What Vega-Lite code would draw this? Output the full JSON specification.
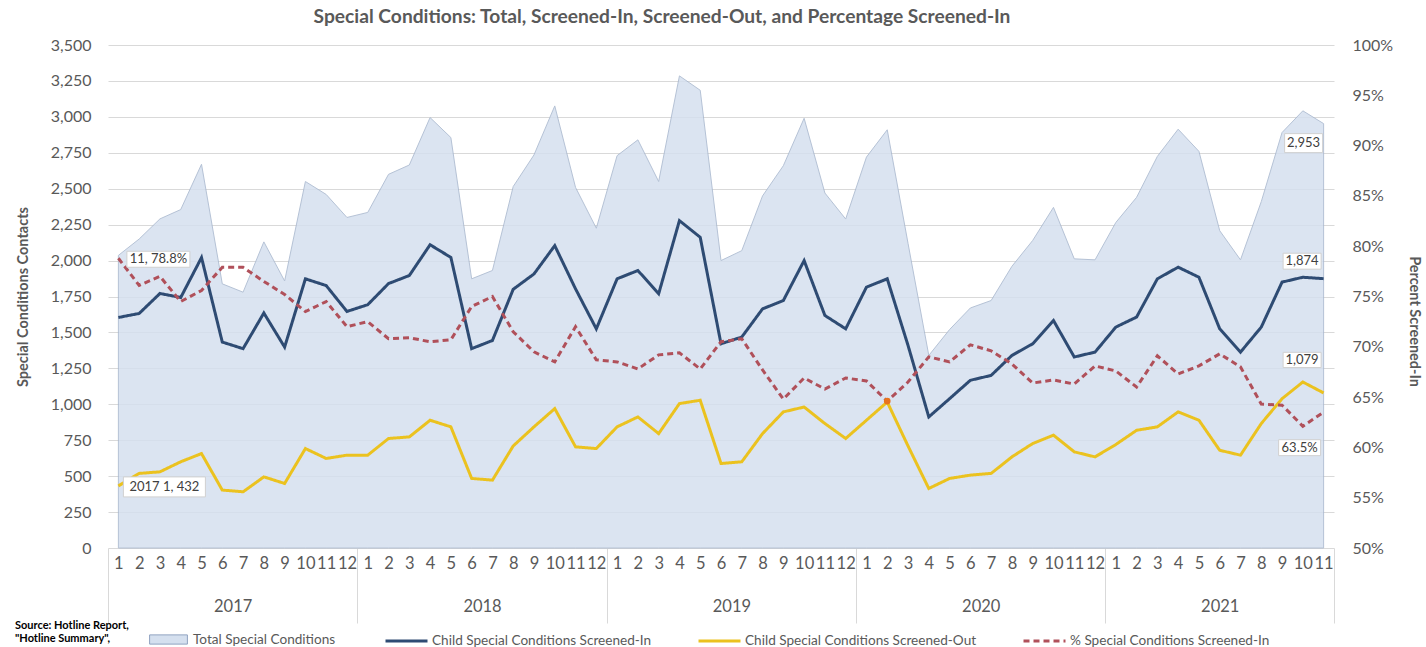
{
  "$schema": "https://vega.github.io/schema/vega-lite/v6.json",
  "width": 1226,
  "height": 503,
  "autosize": {"type": "none"},
  "padding": {"left": 108, "top": 45, "right": 92, "bottom": 99},
  "background": "white",
  "title": {
    "text": "Special Conditions: Total, Screened-In, Screened-Out, and Percentage Screened-In",
    "anchor": "middle", "dx": -59, "offset": 10,
    "font": "Lato", "fontSize": 19.2, "fontWeight": "bold", "color": "#595959"
  },
  "config": {
    "view": {"stroke": null},
    "font": "Lato",
    "axis": {"labelFont": "Lato", "titleFont": "Lato", "labelColor": "#595959", "titleColor": "#595959"}
  },
  "datasets": {
    "months": [
      {"i": 0, "year": 2017, "month": 1, "total": 2036, "screenedIn": 1604, "screenedOut": 432, "pct": 78.8},
      {"i": 1, "year": 2017, "month": 2, "total": 2150, "screenedIn": 1632, "screenedOut": 519, "pct": 76.1},
      {"i": 2, "year": 2017, "month": 3, "total": 2290, "screenedIn": 1771, "screenedOut": 530, "pct": 77.0},
      {"i": 3, "year": 2017, "month": 4, "total": 2355, "screenedIn": 1743, "screenedOut": 600, "pct": 74.5},
      {"i": 4, "year": 2017, "month": 5, "total": 2670, "screenedIn": 2021, "screenedOut": 657, "pct": 75.6},
      {"i": 5, "year": 2017, "month": 6, "total": 1838, "screenedIn": 1433, "screenedOut": 403, "pct": 77.9},
      {"i": 6, "year": 2017, "month": 7, "total": 1780, "screenedIn": 1387, "screenedOut": 391, "pct": 77.9},
      {"i": 7, "year": 2017, "month": 8, "total": 2130, "screenedIn": 1635, "screenedOut": 495, "pct": 76.5},
      {"i": 8, "year": 2017, "month": 9, "total": 1858, "screenedIn": 1398, "screenedOut": 449, "pct": 75.2},
      {"i": 9, "year": 2017, "month": 10, "total": 2550, "screenedIn": 1873, "screenedOut": 692, "pct": 73.5},
      {"i": 10, "year": 2017, "month": 11, "total": 2460, "screenedIn": 1826, "screenedOut": 623, "pct": 74.5},
      {"i": 11, "year": 2017, "month": 12, "total": 2300, "screenedIn": 1646, "screenedOut": 646, "pct": 72.0},
      {"i": 12, "year": 2018, "month": 1, "total": 2335, "screenedIn": 1693, "screenedOut": 646, "pct": 72.5},
      {"i": 13, "year": 2018, "month": 2, "total": 2600, "screenedIn": 1840, "screenedOut": 762, "pct": 70.8},
      {"i": 14, "year": 2018, "month": 3, "total": 2665, "screenedIn": 1896, "screenedOut": 773, "pct": 70.9},
      {"i": 15, "year": 2018, "month": 4, "total": 2995, "screenedIn": 2110, "screenedOut": 889, "pct": 70.5},
      {"i": 16, "year": 2018, "month": 5, "total": 2856, "screenedIn": 2022, "screenedOut": 843, "pct": 70.7},
      {"i": 17, "year": 2018, "month": 6, "total": 1873, "screenedIn": 1387, "screenedOut": 484, "pct": 74.0},
      {"i": 18, "year": 2018, "month": 7, "total": 1931, "screenedIn": 1444, "screenedOut": 472, "pct": 75.0},
      {"i": 19, "year": 2018, "month": 8, "total": 2515, "screenedIn": 1800, "screenedOut": 710, "pct": 71.5},
      {"i": 20, "year": 2018, "month": 9, "total": 2735, "screenedIn": 1907, "screenedOut": 843, "pct": 69.5},
      {"i": 21, "year": 2018, "month": 10, "total": 3076, "screenedIn": 2104, "screenedOut": 970, "pct": 68.5},
      {"i": 22, "year": 2018, "month": 11, "total": 2509, "screenedIn": 1803, "screenedOut": 704, "pct": 72.0},
      {"i": 23, "year": 2018, "month": 12, "total": 2225, "screenedIn": 1525, "screenedOut": 692, "pct": 68.7},
      {"i": 24, "year": 2019, "month": 1, "total": 2730, "screenedIn": 1873, "screenedOut": 843, "pct": 68.5},
      {"i": 25, "year": 2019, "month": 2, "total": 2840, "screenedIn": 1931, "screenedOut": 912, "pct": 67.8},
      {"i": 26, "year": 2019, "month": 3, "total": 2550, "screenedIn": 1769, "screenedOut": 796, "pct": 69.2},
      {"i": 27, "year": 2019, "month": 4, "total": 3285, "screenedIn": 2278, "screenedOut": 1005, "pct": 69.4},
      {"i": 28, "year": 2019, "month": 5, "total": 3185, "screenedIn": 2162, "screenedOut": 1028, "pct": 67.8},
      {"i": 29, "year": 2019, "month": 6, "total": 2000, "screenedIn": 1421, "screenedOut": 588, "pct": 70.5},
      {"i": 30, "year": 2019, "month": 7, "total": 2069, "screenedIn": 1468, "screenedOut": 600, "pct": 70.8},
      {"i": 31, "year": 2019, "month": 8, "total": 2450, "screenedIn": 1664, "screenedOut": 796, "pct": 67.7},
      {"i": 32, "year": 2019, "month": 9, "total": 2660, "screenedIn": 1722, "screenedOut": 947, "pct": 64.8},
      {"i": 33, "year": 2019, "month": 10, "total": 2990, "screenedIn": 2000, "screenedOut": 981, "pct": 66.9},
      {"i": 34, "year": 2019, "month": 11, "total": 2470, "screenedIn": 1618, "screenedOut": 866, "pct": 65.8},
      {"i": 35, "year": 2019, "month": 12, "total": 2289, "screenedIn": 1525, "screenedOut": 762, "pct": 66.9},
      {"i": 36, "year": 2020, "month": 1, "total": 2720, "screenedIn": 1815, "screenedOut": 889, "pct": 66.6},
      {"i": 37, "year": 2020, "month": 2, "total": 2910, "screenedIn": 1873, "screenedOut": 1016, "pct": 64.6},
      {"i": 38, "year": 2020, "month": 3, "total": 2120, "screenedIn": 1410, "screenedOut": 710, "pct": 66.5},
      {"i": 39, "year": 2020, "month": 4, "total": 1340, "screenedIn": 912, "screenedOut": 414, "pct": 69.0},
      {"i": 40, "year": 2020, "month": 5, "total": 1520, "screenedIn": 1039, "screenedOut": 484, "pct": 68.5},
      {"i": 41, "year": 2020, "month": 6, "total": 1670, "screenedIn": 1167, "screenedOut": 507, "pct": 70.2},
      {"i": 42, "year": 2020, "month": 7, "total": 1722, "screenedIn": 1201, "screenedOut": 519, "pct": 69.6},
      {"i": 43, "year": 2020, "month": 8, "total": 1960, "screenedIn": 1340, "screenedOut": 634, "pct": 68.3},
      {"i": 44, "year": 2020, "month": 9, "total": 2140, "screenedIn": 1421, "screenedOut": 727, "pct": 66.4},
      {"i": 45, "year": 2020, "month": 10, "total": 2370, "screenedIn": 1583, "screenedOut": 785, "pct": 66.7},
      {"i": 46, "year": 2020, "month": 11, "total": 2012, "screenedIn": 1329, "screenedOut": 669, "pct": 66.3},
      {"i": 47, "year": 2020, "month": 12, "total": 2005, "screenedIn": 1363, "screenedOut": 634, "pct": 68.1},
      {"i": 48, "year": 2021, "month": 1, "total": 2265, "screenedIn": 1537, "screenedOut": 720, "pct": 67.6},
      {"i": 49, "year": 2021, "month": 2, "total": 2440, "screenedIn": 1607, "screenedOut": 819, "pct": 66.0},
      {"i": 50, "year": 2021, "month": 3, "total": 2725, "screenedIn": 1873, "screenedOut": 843, "pct": 69.1},
      {"i": 51, "year": 2021, "month": 4, "total": 2914, "screenedIn": 1954, "screenedOut": 947, "pct": 67.3},
      {"i": 52, "year": 2021, "month": 5, "total": 2760, "screenedIn": 1884, "screenedOut": 889, "pct": 68.1},
      {"i": 53, "year": 2021, "month": 6, "total": 2208, "screenedIn": 1525, "screenedOut": 680, "pct": 69.3},
      {"i": 54, "year": 2021, "month": 7, "total": 2005, "screenedIn": 1363, "screenedOut": 646, "pct": 68.0},
      {"i": 55, "year": 2021, "month": 8, "total": 2410, "screenedIn": 1537, "screenedOut": 866, "pct": 64.3},
      {"i": 56, "year": 2021, "month": 9, "total": 2891, "screenedIn": 1850, "screenedOut": 1039, "pct": 64.2},
      {"i": 57, "year": 2021, "month": 10, "total": 3042, "screenedIn": 1884, "screenedOut": 1155, "pct": 62.1},
      {"i": 58, "year": 2021, "month": 11, "total": 2953, "screenedIn": 1874, "screenedOut": 1079, "pct": 63.5}
    ],
    "leftLabels": [
      {"i": 0, "v": 432, "label": "2017 1, 432"},
      {"i": 58, "v": 2953, "label": "2,953"},
      {"i": 58, "v": 1874, "label": "1,874"},
      {"i": 58, "v": 1079, "label": "1,079"}
    ],
    "pctLabels": [
      {"i": 0, "v": 78.8, "label": "11, 78.8%"},
      {"i": 58, "v": 63.5, "label": "63.5%"}
    ]
  },
  "data": {"name": "months"},
  "layer": [
    {
      "mark": {"type": "area", "opacity": 0.85, "stroke": "#A9B8CF", "strokeWidth": 1},
      "encoding": {
        "x": {"field": "i", "type": "quantitative", "scale": {"domain": [-0.5, 58.5], "nice": false, "zero": false},
          "axis": {"orient": "bottom", "values": [0,1,2,3,4,5,6,7,8,9,10,11,12,13,14,15,16,17,18,19,20,21,22,23,24,25,26,27,28,29,30,31,32,33,34,35,36,37,38,39,40,41,42,43,44,45,46,47,48,49,50,51,52,53,54,55,56,57,58],
            "labelExpr": "'' + ((datum.value % 12) + 1)", "grid": false, "domain": false, "ticks": false, "labelPadding": 7, "labelFontSize": 16.5, "labelOverlap": false, "labelFlush": false, "labelBound": false, "title": null}},
        "y": {"field": "total", "type": "quantitative", "scale": {"domain": [0, 3500], "nice": false, "zero": false},
          "axis": {"orient": "left", "values": [0,250,500,750,1000,1250,1500,1750,2000,2250,2500,2750,3000,3250,3500], "labelExpr": "format(datum.value, ',')", "grid": true, "gridColor": "#D9D9D9", "domain": false, "ticks": false, "labelPadding": 17, "labelFontSize": 16, "title": "Special Conditions Contacts", "titleFontSize": 14.5, "titleFontWeight": "bold", "titlePadding": 20}},
        "fill": {"datum": "Total Special Conditions", "type": "nominal",
          "scale": {"domain": ["Total Special Conditions"], "range": ["#D5E0EF"]},
          "legend": {
            "orient": "none", "legendX": -93, "legendY": 573, "direction": "horizontal",
            "title": ["Source: Hotline Report,", "\"Hotline Summary\","], "titleOrient": "left", "titleFontSize": 11, "titleFontWeight": "bold", "titleColor": "#000000", "titlePadding": 18, "titleFont": "Lato", "titleLimit": 200,
            "labelFont": "Lato", "labelFontSize": 13.6, "labelColor": "#595959", "labelOffset": 3, "labelLimit": 400,
            "symbolType": "M-0.9,-0.22H0.9V0.22H-0.9Z", "symbolSize": 1764, "symbolStrokeColor": "#8FA2C0", "symbolStrokeWidth": 1, "symbolOpacity": 1
          }}
      }
    },
    {
      "mark": {"type": "line", "strokeWidth": 3},
      "encoding": {
        "x": {"field": "i", "type": "quantitative", "scale": {"domain": [-0.5, 58.5], "nice": false, "zero": false}, "axis": null},
        "y": {"field": "screenedIn", "type": "quantitative", "scale": {"domain": [0, 3500], "nice": false, "zero": false}, "axis": null},
        "stroke": {"datum": "Child Special Conditions Screened-In", "type": "nominal",
          "scale": {"domain": ["Child Special Conditions Screened-In", "Child Special Conditions Screened-Out", "% Special Conditions Screened-In"], "range": ["#2E4B73", "#EBC21F", "#B0505A"]},
          "legend": {
            "orient": "none", "legendX": 276, "legendY": 573, "direction": "horizontal", "title": null,
            "labelFont": "Lato", "labelFontSize": 13.6, "labelColor": "#595959", "labelOffset": 3, "labelLimit": 400,
            "symbolType": "stroke", "symbolSize": 1764, "symbolStrokeWidth": 3, "columnPadding": 40, "symbolOpacity": 1
          }},
        "strokeDash": {"datum": "Child Special Conditions Screened-In", "type": "nominal",
          "scale": {"domain": ["Child Special Conditions Screened-In", "Child Special Conditions Screened-Out", "% Special Conditions Screened-In"], "range": [[1, 0], [1, 0], [6, 4]]},
          "legend": {
            "orient": "none", "legendX": 276, "legendY": 573, "direction": "horizontal", "title": null,
            "labelFont": "Lato", "labelFontSize": 13.6, "labelColor": "#595959", "labelOffset": 3, "labelLimit": 400,
            "symbolType": "stroke", "symbolSize": 1764, "symbolStrokeWidth": 3, "columnPadding": 40, "symbolOpacity": 1
          }}
      }
    },
    {
      "mark": {"type": "line", "strokeWidth": 3},
      "encoding": {
        "x": {"field": "i", "type": "quantitative", "scale": {"domain": [-0.5, 58.5], "nice": false, "zero": false}, "axis": null},
        "y": {"field": "screenedOut", "type": "quantitative", "scale": {"domain": [0, 3500], "nice": false, "zero": false}, "axis": null},
        "stroke": {"datum": "Child Special Conditions Screened-Out", "type": "nominal"},
        "strokeDash": {"datum": "Child Special Conditions Screened-Out", "type": "nominal"}
      }
    },
    {
      "mark": {"type": "line", "strokeWidth": 3},
      "encoding": {
        "x": {"field": "i", "type": "quantitative", "scale": {"domain": [-0.5, 58.5], "nice": false, "zero": false},
          "axis": {"orient": "bottom", "values": [-0.5, 11.5, 23.5, 35.5, 47.5, 58.5], "labels": false, "ticks": true, "tickSize": 75, "tickColor": "#D9D9D9", "tickWidth": 1, "domain": false, "grid": false, "title": null}},
        "y": {"field": "pct", "type": "quantitative", "scale": {"domain": [50, 100], "nice": false, "zero": false},
          "axis": {"orient": "right", "values": [50,55,60,65,70,75,80,85,90,95,100], "labelExpr": "datum.value + '%'", "grid": false, "domain": false, "ticks": false, "labelPadding": 18, "labelFontSize": 16, "title": "Percent Screened-In", "titleFontSize": 14.5, "titleFontWeight": "bold", "titlePadding": 14, "titleY": 276}},
        "stroke": {"datum": "% Special Conditions Screened-In", "type": "nominal"},
        "strokeDash": {"datum": "% Special Conditions Screened-In", "type": "nominal"}
      }
    },
    {
      "transform": [{"filter": "datum.i == 37"}],
      "mark": {"type": "point", "filled": true, "size": 45, "color": "#E8731E", "opacity": 1},
      "encoding": {
        "x": {"field": "i", "type": "quantitative", "scale": {"domain": [-0.5, 58.5], "nice": false, "zero": false}, "axis": null},
        "y": {"field": "pct", "type": "quantitative", "scale": {"domain": [50, 100], "nice": false, "zero": false}, "axis": null}
      }
    },
    {
      "data": {"name": "leftLabels"},
      "transform": [{"filter": "datum.label == '2017 1, 432'"}],
      "mark": {"type": "point", "shape": "M-1,-0.244H1V0.244H-1Z", "size": 6724, "filled": true, "fill": "white", "stroke": "#D0D0D0", "strokeWidth": 1, "opacity": 1, "xOffset": 46, "yOffset": 1},
      "encoding": {
        "x": {"field": "i", "type": "quantitative", "scale": {"domain": [-0.5, 58.5], "nice": false, "zero": false}, "axis": null},
        "y": {"field": "v", "type": "quantitative", "scale": {"domain": [0, 3500], "nice": false, "zero": false}, "axis": null}
      }
    },
    {
      "data": {"name": "leftLabels"},
      "transform": [{"filter": "datum.label == '2017 1, 432'"}],
      "mark": {"type": "text", "dx": 46, "dy": 1, "fontSize": 13, "color": "#404040", "align": "center", "baseline": "middle", "font": "Lato"},
      "encoding": {
        "x": {"field": "i", "type": "quantitative", "scale": {"domain": [-0.5, 58.5], "nice": false, "zero": false}, "axis": null},
        "y": {"field": "v", "type": "quantitative", "scale": {"domain": [0, 3500], "nice": false, "zero": false}, "axis": null},
        "text": {"field": "label"}
      }
    },
    {
      "data": {"name": "leftLabels"},
      "transform": [{"filter": "datum.label == '2,953'"}],
      "mark": {"type": "point", "shape": "M-1,-0.5H1V0.5H-1Z", "size": 1444, "filled": true, "fill": "white", "stroke": "#D0D0D0", "strokeWidth": 1, "opacity": 1, "xOffset": -20, "yOffset": 19.5},
      "encoding": {
        "x": {"field": "i", "type": "quantitative", "scale": {"domain": [-0.5, 58.5], "nice": false, "zero": false}, "axis": null},
        "y": {"field": "v", "type": "quantitative", "scale": {"domain": [0, 3500], "nice": false, "zero": false}, "axis": null}
      }
    },
    {
      "data": {"name": "leftLabels"},
      "transform": [{"filter": "datum.label == '2,953'"}],
      "mark": {"type": "text", "dx": -20, "dy": 19.5, "fontSize": 13, "color": "#404040", "align": "center", "baseline": "middle", "font": "Lato"},
      "encoding": {
        "x": {"field": "i", "type": "quantitative", "scale": {"domain": [-0.5, 58.5], "nice": false, "zero": false}, "axis": null},
        "y": {"field": "v", "type": "quantitative", "scale": {"domain": [0, 3500], "nice": false, "zero": false}, "axis": null},
        "text": {"field": "label"}
      }
    },
    {
      "data": {"name": "leftLabels"},
      "transform": [{"filter": "datum.label == '1,874'"}],
      "mark": {"type": "point", "shape": "M-1,-0.42H1V0.42H-1Z", "size": 1444, "filled": true, "fill": "white", "stroke": "#D0D0D0", "strokeWidth": 1, "opacity": 1, "xOffset": -21.5, "yOffset": -17.5},
      "encoding": {
        "x": {"field": "i", "type": "quantitative", "scale": {"domain": [-0.5, 58.5], "nice": false, "zero": false}, "axis": null},
        "y": {"field": "v", "type": "quantitative", "scale": {"domain": [0, 3500], "nice": false, "zero": false}, "axis": null}
      }
    },
    {
      "data": {"name": "leftLabels"},
      "transform": [{"filter": "datum.label == '1,874'"}],
      "mark": {"type": "text", "dx": -21.5, "dy": -17.5, "fontSize": 13, "color": "#404040", "align": "center", "baseline": "middle", "font": "Lato"},
      "encoding": {
        "x": {"field": "i", "type": "quantitative", "scale": {"domain": [-0.5, 58.5], "nice": false, "zero": false}, "axis": null},
        "y": {"field": "v", "type": "quantitative", "scale": {"domain": [0, 3500], "nice": false, "zero": false}, "axis": null},
        "text": {"field": "label"}
      }
    },
    {
      "data": {"name": "leftLabels"},
      "transform": [{"filter": "datum.label == '1,079'"}],
      "mark": {"type": "point", "shape": "M-1,-0.4H1V0.4H-1Z", "size": 1444, "filled": true, "fill": "white", "stroke": "#D0D0D0", "strokeWidth": 1, "opacity": 1, "xOffset": -21.5, "yOffset": -33},
      "encoding": {
        "x": {"field": "i", "type": "quantitative", "scale": {"domain": [-0.5, 58.5], "nice": false, "zero": false}, "axis": null},
        "y": {"field": "v", "type": "quantitative", "scale": {"domain": [0, 3500], "nice": false, "zero": false}, "axis": null}
      }
    },
    {
      "data": {"name": "leftLabels"},
      "transform": [{"filter": "datum.label == '1,079'"}],
      "mark": {"type": "text", "dx": -21.5, "dy": -33, "fontSize": 13, "color": "#404040", "align": "center", "baseline": "middle", "font": "Lato"},
      "encoding": {
        "x": {"field": "i", "type": "quantitative", "scale": {"domain": [-0.5, 58.5], "nice": false, "zero": false}, "axis": null},
        "y": {"field": "v", "type": "quantitative", "scale": {"domain": [0, 3500], "nice": false, "zero": false}, "axis": null},
        "text": {"field": "label"}
      }
    },
    {
      "data": {"name": "pctLabels"},
      "transform": [{"filter": "datum.label == '11, 78.8%'"}],
      "mark": {"type": "point", "shape": "M-1,-0.254H1V0.254H-1Z", "size": 3969, "filled": true, "fill": "white", "stroke": "#D0D0D0", "strokeWidth": 1, "opacity": 1, "xOffset": 40, "yOffset": 1},
      "encoding": {
        "x": {"field": "i", "type": "quantitative", "scale": {"domain": [-0.5, 58.5], "nice": false, "zero": false}, "axis": null},
        "y": {"field": "v", "type": "quantitative", "scale": {"domain": [50, 100], "nice": false, "zero": false}, "axis": null}
      }
    },
    {
      "data": {"name": "pctLabels"},
      "transform": [{"filter": "datum.label == '11, 78.8%'"}],
      "mark": {"type": "text", "dx": 40, "dy": 1, "fontSize": 13, "color": "#404040", "align": "center", "baseline": "middle", "font": "Lato"},
      "encoding": {
        "x": {"field": "i", "type": "quantitative", "scale": {"domain": [-0.5, 58.5], "nice": false, "zero": false}, "axis": null},
        "y": {"field": "v", "type": "quantitative", "scale": {"domain": [50, 100], "nice": false, "zero": false}, "axis": null},
        "text": {"field": "label"}
      }
    },
    {
      "data": {"name": "pctLabels"},
      "transform": [{"filter": "datum.label == '63.5%'"}],
      "mark": {"type": "point", "shape": "M-1,-0.38H1V0.38H-1Z", "size": 1764, "filled": true, "fill": "white", "stroke": "#D0D0D0", "strokeWidth": 1, "opacity": 1, "xOffset": -24, "yOffset": 35.5},
      "encoding": {
        "x": {"field": "i", "type": "quantitative", "scale": {"domain": [-0.5, 58.5], "nice": false, "zero": false}, "axis": null},
        "y": {"field": "v", "type": "quantitative", "scale": {"domain": [50, 100], "nice": false, "zero": false}, "axis": null}
      }
    },
    {
      "data": {"name": "pctLabels"},
      "transform": [{"filter": "datum.label == '63.5%'"}],
      "mark": {"type": "text", "dx": -24, "dy": 35.5, "fontSize": 13, "color": "#404040", "align": "center", "baseline": "middle", "font": "Lato"},
      "encoding": {
        "x": {"field": "i", "type": "quantitative", "scale": {"domain": [-0.5, 58.5], "nice": false, "zero": false}, "axis": null},
        "y": {"field": "v", "type": "quantitative", "scale": {"domain": [50, 100], "nice": false, "zero": false}, "axis": null},
        "text": {"field": "label"}
      }
    },
    {
      "mark": {"type": "point", "opacity": 0},
      "encoding": {
        "x": {"field": "i", "type": "quantitative", "scale": {"domain": [-0.5, 58.5], "nice": false, "zero": false},
          "axis": {"orient": "bottom", "values": [5.5, 17.5, 29.5, 41.5, 53], "labelExpr": "'' + (2017 + floor(datum.value / 12))", "ticks": false, "domain": false, "grid": false, "labelPadding": 50, "labelFontSize": 16.5, "labelOverlap": false, "title": null}}
      }
    }
  ],
  "resolve": {"scale": {"y": "independent"}, "axis": {"x": "independent", "y": "independent"}}
}
